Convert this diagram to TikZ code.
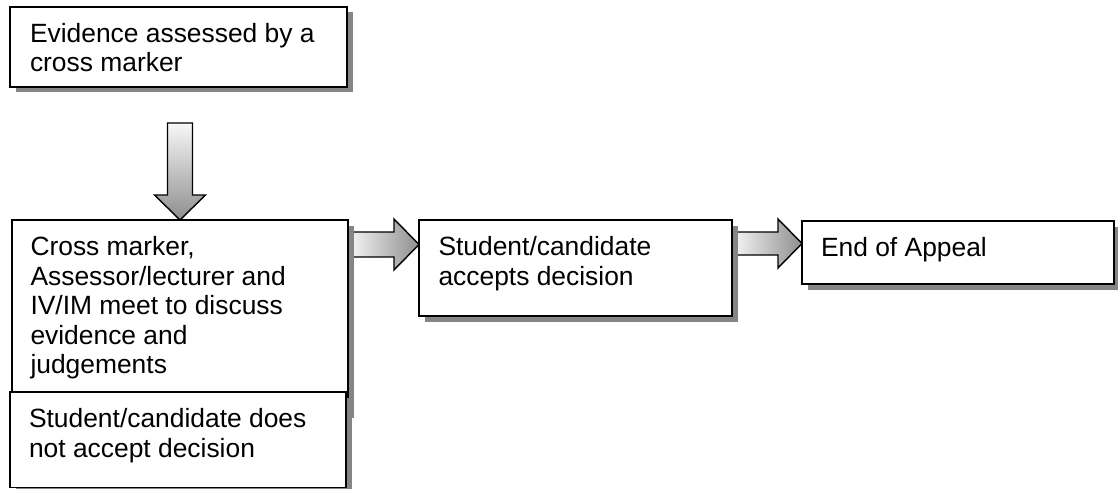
\documentclass[tikz,border=0pt]{standalone}
\usepackage{fontspec}
\setmainfont{Liberation Sans}
\usetikzlibrary{calc,shadows,backgrounds}
\definecolor{shadowgray}{HTML}{858585}
\definecolor{arrowlight}{HTML}{F7F7F7}
\definecolor{arrowdark}{HTML}{8E8E8E}
\newcommand{\bxtext}[4]{\parbox[t][#2][t]{#1}{\leftskip=#3\relax\rule{0pt}{35.5pt}#4}}
\tikzset{
  box/.style={draw=black, line width=1.5pt, fill=white, rectangle, anchor=north west,
    inner sep=0pt, outer sep=0pt, font=\fontsize{26.4pt}{29.5pt}\selectfont,
    drop shadow={shadow xshift=5.5pt, shadow yshift=-5.5pt, fill=shadowgray, opacity=1}},
  blockdown/.style={draw=black, line width=1.4pt, line join=miter, top color=arrowlight, bottom color=arrowdark},
  blockright/.style={draw=black, line width=1.4pt, line join=miter, left color=arrowlight, right color=arrowdark}
}
\begin{document}
\begin{tikzpicture}[x=1pt,y=-1pt]
\useasboundingbox (0,0) rectangle (1118,489);
\node[box] (b1) at (10,7) {\bxtext{337pt}{80pt}{20pt}{Evidence assessed by a\\cross marker}};
\node[box] (b2) at (12,220) {\bxtext{336pt}{192pt}{18.5pt}{Cross marker,\\Assessor/lecturer and\\IV/IM meet to discuss\\evidence and\\judgements}};
\node[box] (b3) at (10,392) {\bxtext{336pt}{95.5pt}{19pt}{Student/candidate does\\not accept decision}};
\node[box] (b4) at (419,220) {\bxtext{313pt}{96pt}{19.5pt}{Student/candidate\\accepts decision}};
\node[box] (b5) at (802,221) {\bxtext{312pt}{63pt}{19pt}{End of Appeal}};
\coordinate (t0) at (b2.north);
\coordinate (t1) at ($(b4.north west)+(0,24.5)$);
\coordinate (t2) at ($(b5.north west)+(0,22.5)$);
\begin{scope}[on background layer]
\path[blockdown] ($(t0)+(-12.5,-97)$) -- ($(t0)+(12.5,-97)$) -- ($(t0)+(12.5,-25)$)
  -- ($(t0)+(25.5,-25)$) -- (t0) -- ($(t0)+(-25.5,-25)$) -- ($(t0)+(-12.5,-25)$) -- cycle;
\path[blockright] ($(b2.east |- t1)+(0,-12.5)$) -- ($(t1)+(-25,-12.5)$) -- ($(t1)+(-25,-25.5)$)
  -- (t1) -- ($(t1)+(-25,25.5)$) -- ($(t1)+(-25,12.5)$) -- ($(b2.east |- t1)+(0,12.5)$) -- cycle;
\path[blockright] ($(b4.east |- t2)+(0,-11.5)$) -- ($(t2)+(-24,-11.5)$) -- ($(t2)+(-24,-24.5)$)
  -- (t2) -- ($(t2)+(-24,24.5)$) -- ($(t2)+(-24,11.5)$) -- ($(b4.east |- t2)+(0,11.5)$) -- cycle;
\end{scope}
\end{tikzpicture}
\end{document}
